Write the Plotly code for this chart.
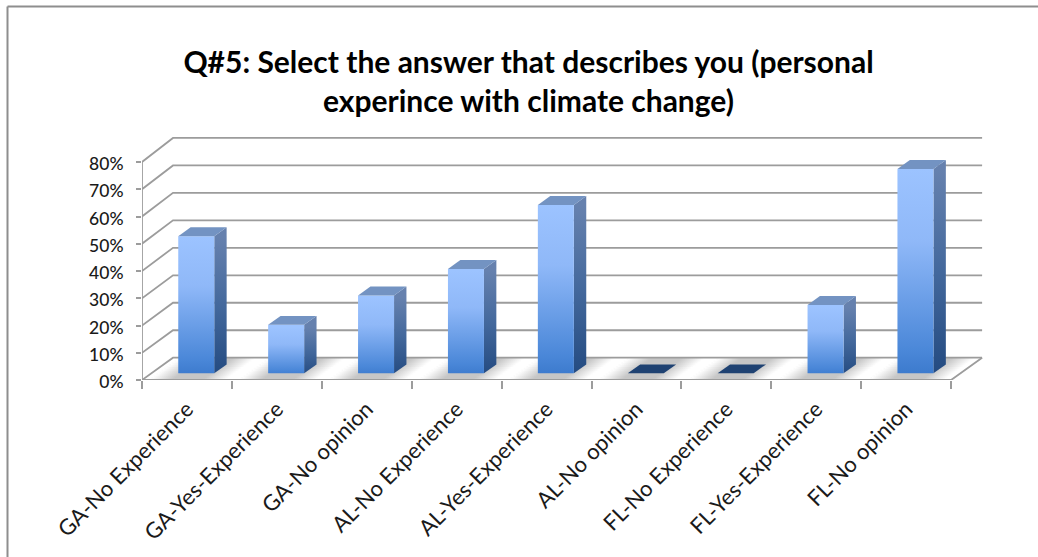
import plotly.graph_objects as go

categories = ["GA-No Experience", "GA-Yes-Experience", "GA-No opinion",
              "AL-No Experience", "AL-Yes-Experience", "AL-No opinion",
              "FL-No Experience", "FL-Yes-Experience", "FL-No opinion"]
values = [50.3, 17.8, 28.6, 38.3, 61.8, 0, 0, 25.1, 75]
y_ticks = [0, 10, 20, 30, 40, 50, 60, 70, 80]
y_labels = ["0%", "10%", "20%", "30%", "40%", "50%", "60%", "70%", "80%"]
title_text = "Q#5: Select the answer that describes you (personal<br>experince with climate change)"

FONT = "Lato"
GRID = "#9c9c9c"
W, H = 1038, 557
PLOT_L, PLOT_R, PLOT_T, PLOT_B = 142, 983, 136, 380
BOTTOM_FIX = 3            # the page renders the plot this much shorter than the margin asks
X_SCALE = 89.9            # pixels per category
Y_SCALE = 2.725           # pixels per percentage point
DX = 31 / X_SCALE         # wall depth, x units
DY = 22.3 / Y_SCALE       # wall depth, y units
BACK_STRETCH = 1.008      # back wall is drawn slightly larger than the front
BAR_HALF = 18 / X_SCALE
D0, D1 = 0.3, 0.7         # bar position within the depth
N = len(categories)
PH = PLOT_B - PLOT_T
PW = PLOT_R - PLOT_L

fig = go.Figure()


def poly(xs, ys, **kw):
    fig.add_trace(go.Scatter(x=xs, y=ys, mode="lines", fill="toself", line=dict(width=0),
                             hoverinfo="skip", showlegend=False, cliponaxis=False, **kw))


def line(xs, ys, color=GRID, width=1.8):
    fig.add_trace(go.Scatter(x=xs, y=ys, mode="lines", line=dict(color=color, width=width),
                             hoverinfo="skip", showlegend=False, cliponaxis=False))


# soft floor shadows
STRIPS = 12
SHADOW_HALF = 38 / X_SCALE
for i in range(N):
    c = i + 0.5
    for s in range(STRIPS):
        t0, t1 = s / STRIPS, min((s + 1.6) / STRIPS, 1)
        tm = (s + 0.5) / STRIPS
        xc = c + tm * DX
        poly([xc - SHADOW_HALF, xc + SHADOW_HALF, xc + SHADOW_HALF, xc - SHADOW_HALF, xc - SHADOW_HALF],
             [t0 * DY, t0 * DY, t1 * DY, t1 * DY, t0 * DY],
             fillgradient=dict(type="horizontal", start=xc - SHADOW_HALF, stop=xc + SHADOW_HALF,
                               colorscale=[[0, "#ffffff"], [0.3, "#c6c6c6"], [0.7, "#c6c6c6"], [1, "#ffffff"]]))

# walls and floor
for v in y_ticks:
    y_back = v * BACK_STRETCH + DY
    line([0, DX, N + DX], [v, y_back, y_back])
line([0, 0], [0, y_ticks[-1]])
line([0, N, N + DX], [0, 0, DY])

# bars
for i, v in enumerate(values):
    c = i + 0.5
    x0 = c - BAR_HALF + D0 * DX
    x1 = c + BAR_HALF + D0 * DX
    shift_x = (D1 - D0) * DX
    shift_y = (D1 - D0) * DY
    b = D0 * DY
    t = b + v
    if v > 0:
        poly([x1, x1 + shift_x, x1 + shift_x, x1, x1], [b, b + shift_y, t + shift_y, t, b],
             fillgradient=dict(type="vertical", start=b, stop=t,
                               colorscale=[[0, "#234a80"], [0.5, "#43689c"], [1, "#6681ae"]]))
        poly([x0, x1, x1, x0, x0], [b, b, t, t, b],
             fillgradient=dict(type="vertical", start=b, stop=t,
                               colorscale=[[0, "#3b79cc"], [0.12, "#4a87d8"], [0.65, "#8fb8f8"], [1, "#9cc3ff"]]))
    poly([x0, x1, x1 + shift_x, x0 + shift_x, x0], [t, t, t + shift_y, t + shift_y, t],
         fillcolor="#1f4272" if v == 0 else "#7393c2")

fig.update_layout(
    width=W, height=H, autosize=False,
    paper_bgcolor="white", plot_bgcolor="white",
    margin=dict(l=PLOT_L, r=W - PLOT_R, t=PLOT_T, b=H - PLOT_B - BOTTOM_FIX, pad=0),
    title=dict(text=title_text, x=528.5 / W, xanchor="center", y=1 - 73 / H, yanchor="middle",
               font=dict(family=FONT, size=30, color="#000000", weight="bold")),
    xaxis=dict(range=[0, PW / X_SCALE], tickmode="array",
               tickvals=[i + 0.5 for i in range(N)], ticktext=categories, tickangle=-45,
               ticks="", showgrid=False, zeroline=False, showline=False, ticklabelstandoff=11,
               tickfont=dict(family=FONT, size=22, color="#1a1a1a"),
               minor=dict(tickmode="array", tickvals=list(range(N + 1)), ticks="outside",
                          ticklen=8, tickwidth=1.8, tickcolor=GRID, showgrid=False)),
    yaxis=dict(range=[0, PH / Y_SCALE], tickmode="array",
               tickvals=y_ticks, ticktext=y_labels, ticks="outside", ticklen=5, tickwidth=1.8,
               tickcolor=GRID, showgrid=False, zeroline=False, showline=False,
               ticklabelstandoff=9, ticklabelshift=2,
               tickfont=dict(family=FONT, size=17.5, color="#1a1a1a", weight=500)),
    shapes=[
        dict(type="line", xref="paper", yref="paper", x0=-(PLOT_L - 7.5) / PW,
             x1=(W - PLOT_L) / PW, y0=(PLOT_B - 6.5) / PH, y1=(PLOT_B - 6.5) / PH,
             line=dict(color="#8e8e8e", width=2)),
        dict(type="line", xref="paper", yref="paper", x0=-(PLOT_L - 7.5) / PW, x1=-(PLOT_L - 7.5) / PW,
             y0=(PLOT_B - 6.5) / PH, y1=(PLOT_B - H) / PH,
             line=dict(color="#8e8e8e", width=2)),
    ],
)

fig.write_html("out.html", config={"displayModeBar": False},
               post_script="document.body.style.margin='0';document.body.style.overflow='hidden';")
